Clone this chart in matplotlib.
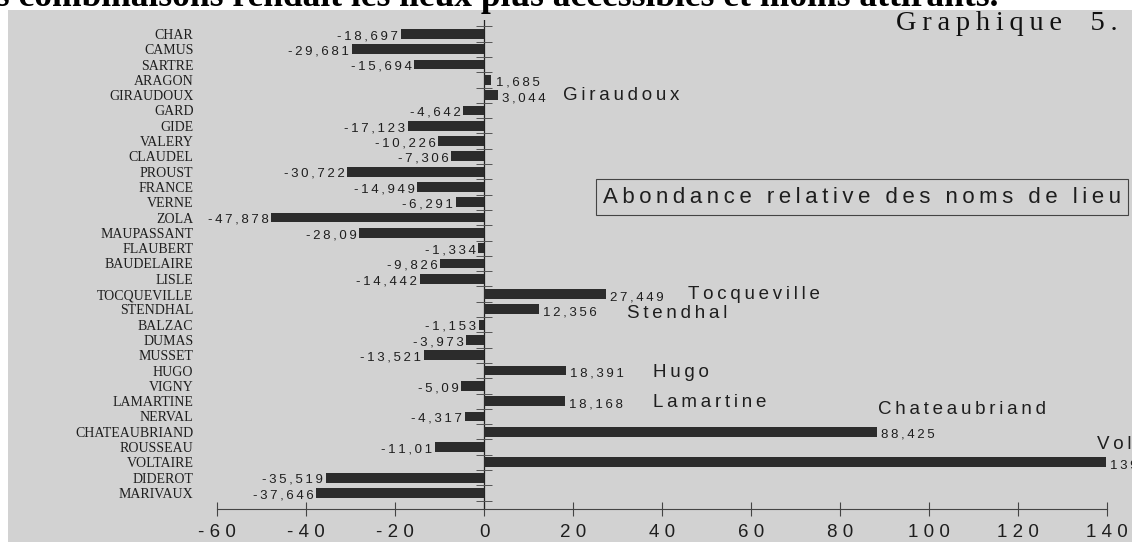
import matplotlib.pyplot as plt
import numpy as np
from matplotlib.patches import Rectangle

# auteurs, de haut en bas, et abondance relative des noms de lieu
auteurs = ["CHAR", "CAMUS", "SARTRE", "ARAGON", "GIRAUDOUX", "GARD", "GIDE",
           "VALERY", "CLAUDEL", "PROUST", "FRANCE", "VERNE", "ZOLA",
           "MAUPASSANT", "FLAUBERT", "BAUDELAIRE", "LISLE", "TOCQUEVILLE",
           "STENDHAL", "BALZAC", "DUMAS", "MUSSET", "HUGO", "VIGNY",
           "LAMARTINE", "NERVAL", "CHATEAUBRIAND", "ROUSSEAU", "VOLTAIRE",
           "DIDEROT", "MARIVAUX"]
valeurs = [-18.697, -29.681, -15.694, 1.685, 3.044, -4.642, -17.123,
           -10.226, -7.306, -30.722, -14.949, -6.291, -47.878,
           -28.09, -1.334, -9.826, -14.442, 27.449,
           12.356, -1.153, -3.973, -13.521, 18.391, -5.09,
           18.168, -4.317, 88.425, -11.01, 139.8,
           -35.519, -37.646]
xticks = [-60, -40, -20, 0, 20, 40, 60, 80, 100, 120, 140]

# noms mis en avant a cote de leur barre
noms_notes = ["Giraudoux", "Tocqueville", "Stendhal", "Hugo", "Lamartine",
              "Chateaubriand", "Voltaire"]

SANS = ["Liberation Sans", "DejaVu Sans"]
SERIF = ["Liberation Serif", "DejaVu Serif"]
INK = "#1e1e1e"


def spaced(s, sp="\u2009"):
    return sp.join(s)


fig = plt.figure(figsize=(11.32, 5.42), dpi=100)
fig.patch.set_facecolor("white")
# fond gris de la page scannee
fig.add_artist(Rectangle((8 / 1132, 0), 1, 532 / 542, transform=fig.transFigure,
                         facecolor="#d2d2d2", edgecolor="none", zorder=0))

# ligne de texte coupee en haut
fig.text(-20 / 1132, 1 - 6 / 542,
         "es combinaisons rendait les lieux plus accessibles et moins attirants.",
         family=SERIF, weight="bold", fontsize=25.5, color="black",
         ha="left", va="baseline")
fig.text(1118 / 1132, 1 - 23 / 542, spaced("Graphique") + "\u2002\u2002" + spaced("5."),
         family=SERIF, fontsize=20.5, color="#111111", ha="right", va="center")

ax = fig.add_axes([217 / 1132, 33 / 542, 890 / 1132, 489 / 542])
ax.set_facecolor("none")

n = len(auteurs)
y = np.arange(n)
ax.barh(y, valeurs, height=0.64, color="#2c2c2c", zorder=3)

for i, v in enumerate(valeurs):
    lab = spaced(f"{v:g}".replace(".", ","))
    if v < 0:
        ax.text(v - 0.6, i + 0.15, lab, ha="right", va="center",
                family=SANS, fontsize=9.5, color=INK)
    else:
        ax.text(v + 0.9, i + 0.2, lab, ha="left", va="center",
                family=SANS, fontsize=9.5, color=INK)

# axe zero avec petites graduations entre les barres
ax.axvline(0, color="#222222", lw=0.9, zorder=2)
ax.plot(np.zeros(n + 1), np.arange(n + 1) - 0.5, ls="none", marker="_",
        ms=12, mew=0.7, color="#555555", zorder=2)

# annotations
idx = {a: i for i, a in enumerate(auteurs)}
notes = [(17.8, 0.0), (45.8, 0.0), (32.1, 0.3), (38.0, 0.1),
         (38.0, 0.1), (88.5, -1.45), (137.8, -1.15)]
for nom, (xn, dy) in zip(noms_notes, notes):
    txt = "Vol" if nom == "Voltaire" else nom
    ax.text(xn, idx[nom.upper()] + dy, spaced(txt), ha="left", va="center",
            family=SANS, fontsize=13.5, color=INK)

fig.text(603 / 1132, 1 - 197 / 542, spaced("Abondance relative des noms de lieu"),
         family=SANS, fontsize=16, color=INK, ha="left", va="center",
         bbox=dict(boxstyle="square,pad=0.32", facecolor="none",
                   edgecolor="#444444", lw=0.8))

ax.set_xlim(-60, 140)
ax.set_ylim(31.05, -0.915)
ax.set_xticks(xticks, [spaced(str(t), " ") for t in xticks])
ax.set_yticks(y, auteurs)
for t in ax.get_yticklabels():
    t.set_family(SERIF)
    t.set_fontsize(10)
    t.set_color(INK)
for t in ax.get_xticklabels():
    t.set_family(SANS)
    t.set_fontsize(13.5)
    t.set_color(INK)
ax.tick_params(axis="y", length=0, pad=17)
ax.tick_params(axis="x", direction="inout", length=10, width=0.8,
               color="#444444", pad=6)
for s in ["top", "right", "left"]:
    ax.spines[s].set_visible(False)
ax.spines["bottom"].set_color("#444444")
ax.spines["bottom"].set_linewidth(0.8)

fig.savefig("out.png", dpi=100)
